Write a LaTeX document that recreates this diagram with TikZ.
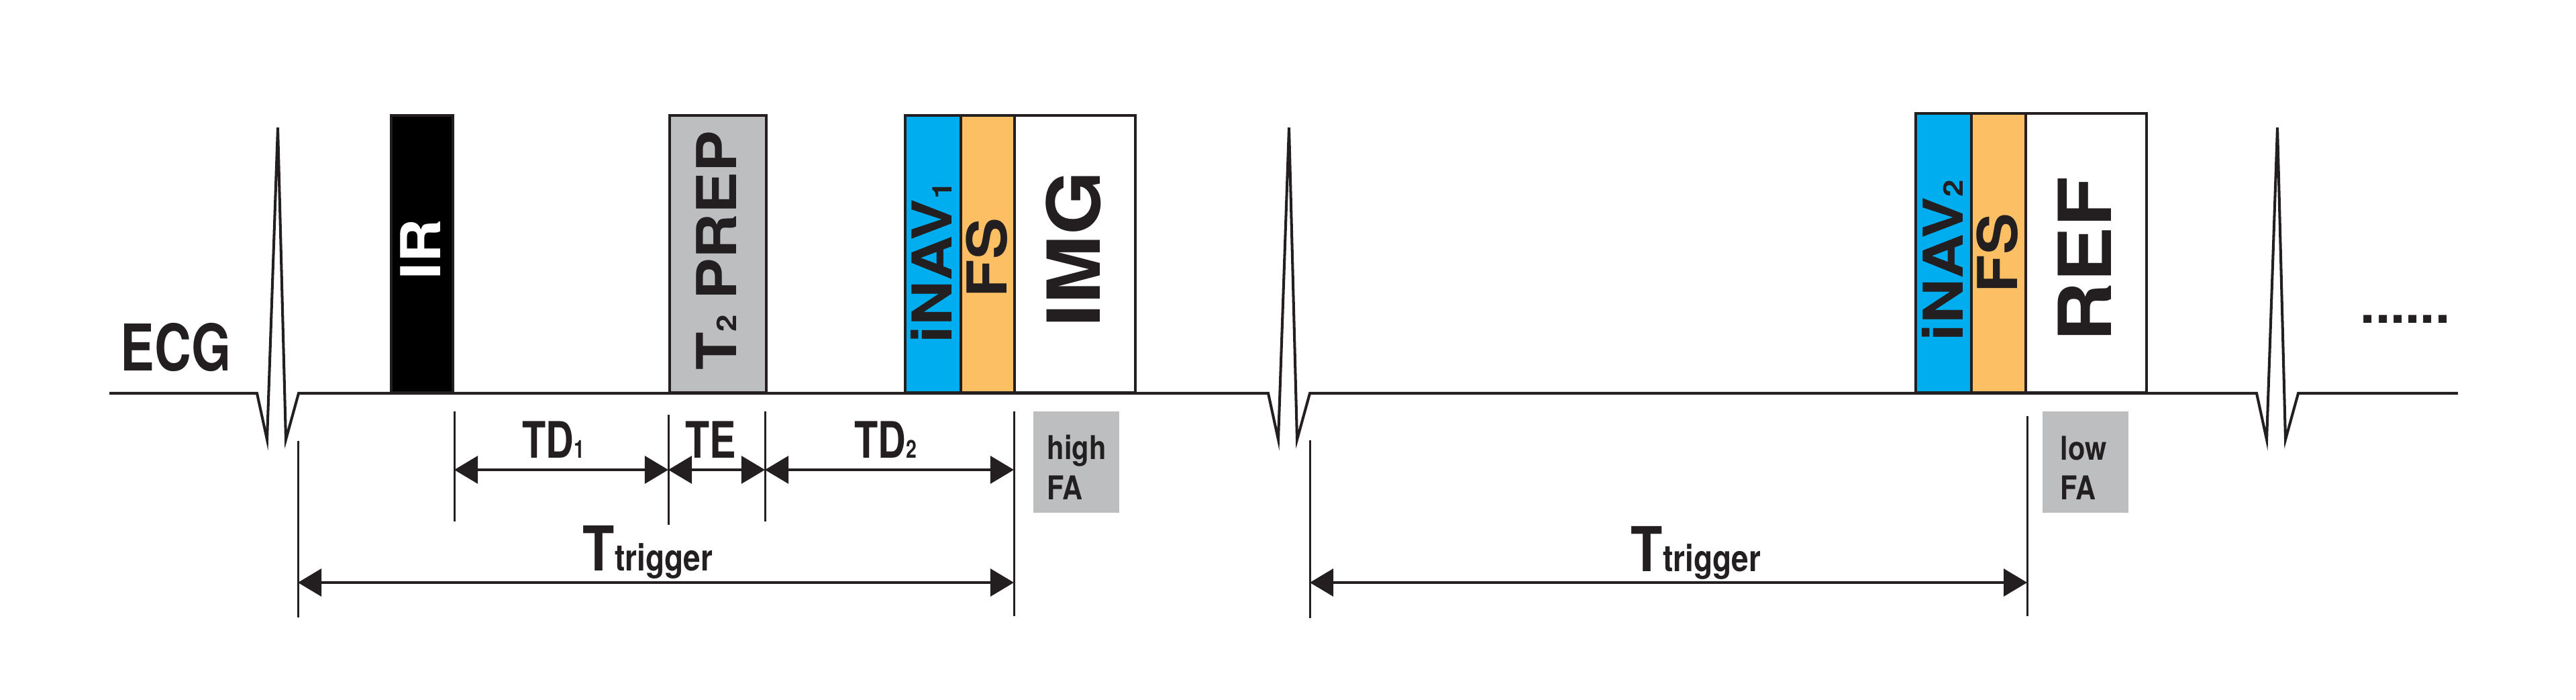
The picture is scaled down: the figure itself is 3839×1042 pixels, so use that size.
\documentclass[tikz,border=0pt]{standalone}
\usepackage{fontspec}
\setmainfont{TeX Gyre Heros}
\usetikzlibrary{arrows.meta}
\definecolor{ink}{HTML}{231F20}
\definecolor{navblue}{HTML}{00AEEF}
\definecolor{fsorange}{HTML}{FCBF64}
\definecolor{prepgray}{HTML}{BCBEC0}
\newcommand{\fsz}[1]{\fontsize{#1}{#1}\selectfont}
\tikzset{
  ecgline/.style={draw=ink, line width=1.15pt},
  seqbox/.style={draw=ink, line width=1.1pt, inner sep=0pt, anchor=south west},
  vlab/.style={rotate=90, inner sep=0pt, text=ink, font=\bfseries\fsz{23.3}},
  biglab/.style={rotate=90, inner sep=0pt, text=ink, font=\bfseries\fsz{31}},
  tick/.style={draw=ink, line width=0.85pt},
  dimarrow/.style={draw=ink, line width=0.95pt,
    {Triangle[length=0.35cm,width=0.41cm]}-{Triangle[length=0.35cm,width=0.41cm]}},
  hlab/.style={inner sep=0pt, anchor=base west, text=ink, font=\bfseries},
  fabox/.style={fill=prepgray, inner sep=0pt, anchor=north west,
    minimum width=1.28cm, minimum height=1.51cm},
}
\begin{document}
\begin{tikzpicture}[x=0.01cm,y=-0.01cm]
\useasboundingbox (0,0) rectangle (3839,1042);

% ECG trace
\draw[ecgline] (163,586) -- (383,586) -- (398,655) -- (414,190) -- (426,655) -- (445,586)
  -- (1890,586) -- (1905,655) -- (1921,190) -- (1933,655) -- (1952,586)
  -- (3363,586) -- (3378,655) -- (3394,190) -- (3406,655) -- (3425,586) -- (3663,586);
\node[hlab, font=\bfseries\fsz{27.3}] (ecg) at (179,552) {\scalebox{0.79}[1]{ECG}};
\node[hlab, font=\bfseries\fsz{22.8}] (dots) at (3517,481) {......};

% sequence blocks, first heartbeat
\node[seqbox, fill=black, minimum width=0.92cm, minimum height=4.13cm] (ir) at (581,587) {};
\node[seqbox, fill=prepgray, minimum width=1.44cm, minimum height=4.13cm] (prep) at (996,587) {};
\node[seqbox, fill=navblue, minimum width=0.83cm, minimum height=4.13cm] (nav1) at (1347,587) {};
\node[seqbox, fill=fsorange, minimum width=0.80cm, minimum height=4.13cm] (fs1) at (1430,587) {};
\node[seqbox, fill=white, minimum width=1.80cm, minimum height=4.13cm] (img) at (1510,587) {};

\node[vlab, text=white] (irt) at (627,371) {\scalebox{1.1}[1]{IR}};
\node[vlab] (prept) at (1068,373) {\scalebox{1.13}[1]{T{\fsz{11.5}2}\hspace{0.2cm}PREP}};
\node[vlab] (nav1t) at (1388,391) {\scalebox{1.13}[1]{iNAV{\fsz{11.5}1}}};
\node[vlab] (fs1t) at (1471,384) {\scalebox{1.13}[1]{FS}};
\node[biglab] (imgt) at (1600,371) {\scalebox{1.13}[1]{IMG}};

% second heartbeat
\node[seqbox, fill=navblue, minimum width=0.83cm, minimum height=4.16cm] (nav2) at (2853,587) {};
\node[seqbox, fill=fsorange, minimum width=0.81cm, minimum height=4.16cm] (fs2) at (2936,587) {};
\node[seqbox, fill=white, minimum width=1.80cm, minimum height=4.16cm] (ref) at (3017,587) {};

\node[vlab] (nav2t) at (2895,388) {\scalebox{1.13}[1]{iNAV{\fsz{11.5}2}}};
\node[vlab] (fs2t) at (2977,377) {\scalebox{1.13}[1]{FS}};
\node[biglab] (reft) at (3107,386) {\scalebox{1.13}[1]{REF}};

% flip-angle boxes
\node[fabox] (hfa) at (1539,612) {};
\node[hlab, font=\bfseries\fsz{13.9}] (hfa1) at (1560,684) {\scalebox{0.85}[1]{high}};
\node[hlab, font=\bfseries\fsz{13.9}] (hfa2) at (1560,744) {\scalebox{0.85}[1]{FA}};
\node[fabox] (lfa) at (3043,612) {};
\node[hlab, font=\bfseries\fsz{13.9}] (lfa1) at (3070,685) {\scalebox{0.85}[1]{low}};
\node[hlab, font=\bfseries\fsz{13.9}] (lfa2) at (3070,744) {\scalebox{0.85}[1]{FA}};

% timing ticks
\coordinate (a1) at (444,657);  \coordinate (b1) at (444,920);
\coordinate (a2) at (677,613);  \coordinate (b2) at (677,777);
\coordinate (a3) at (996,618);  \coordinate (b3) at (996,782);
\coordinate (a4) at (1140,613); \coordinate (b4) at (1140,777);
\coordinate (a5) at (1511,613); \coordinate (b5) at (1511,918);
\coordinate (a6) at (1952,656); \coordinate (b6) at (1952,921);
\coordinate (a7) at (3021,620); \coordinate (b7) at (3021,918);
\foreach \i in {1,...,7} { \draw[tick] (a\i) -- (b\i); }

\coordinate (td1l) at (677,700);  \coordinate (td1r) at (996,700);
\coordinate (ter) at (1140,700);  \coordinate (td2r) at (1511,700);
\coordinate (tt1l) at (444,868);  \coordinate (tt1r) at (1511,868);
\coordinate (tt2l) at (1952,868); \coordinate (tt2r) at (3021,868);
\draw[dimarrow] (td1l) -- (td1r);
\draw[dimarrow] (td1r) -- (ter);
\draw[dimarrow] (ter) -- (td2r);
\draw[dimarrow] (tt1l) -- (tt1r);
\draw[dimarrow] (tt2l) -- (tt2r);

\node[hlab, font=\bfseries\fsz{21.3}] (td1) at (778,682) {\scalebox{0.77}[1]{TD{\fsz{10.5}1}}};
\node[hlab, font=\bfseries\fsz{21.3}] (te) at (1021,682) {\scalebox{0.79}[1]{TE}};
\node[hlab, font=\bfseries\fsz{21.3}] (td2) at (1273,682) {\scalebox{0.77}[1]{TD{\fsz{10.5}2}}};
\node[hlab, font=\bfseries\fsz{26.2}] (tt1) at (868,850) {\scalebox{0.84}[1]{T{\fsz{15.6}trigger}}};
\node[hlab, font=\bfseries\fsz{26.2}] (tt2) at (2430,851) {\scalebox{0.84}[1]{T{\fsz{15.6}trigger}}};
\end{tikzpicture}
\end{document}
